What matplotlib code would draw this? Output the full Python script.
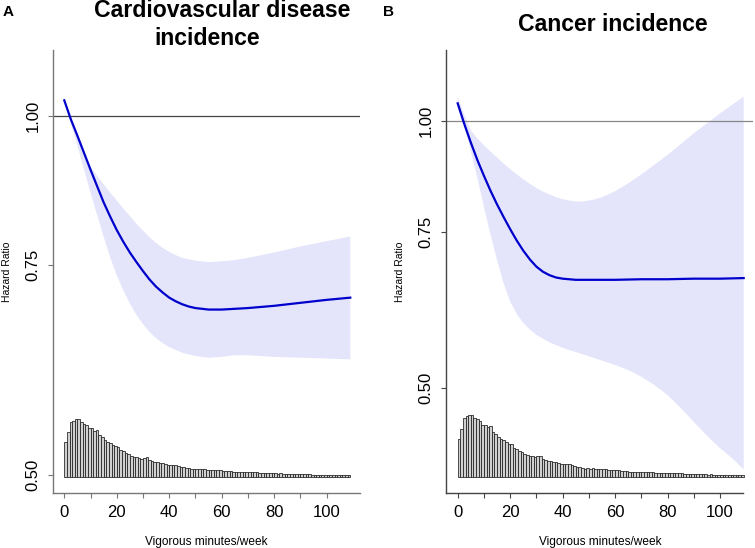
import numpy as np
import matplotlib
matplotlib.use("Agg")
import matplotlib.pyplot as plt
from matplotlib.ticker import NullLocator, FixedLocator, FixedFormatter

plt.rcParams['font.family'] = ['Liberation Sans', 'DejaVu Sans']

# ---------------- data ----------------
title_lines = [["Cardiovascular disease", "incidence"], ["Cancer incidence"]]
panel_letters = ["A", "B"]
x_label = "Vigorous minutes/week"
y_label = "Hazard Ratio"
x_ticks = [0, 10, 20, 30, 40, 50, 60, 70, 80, 90, 100]
x_tick_labels = ["0", "", "20", "", "40", "", "60", "", "80", "", "100"]
y_ticks = [0.50, 0.75, 1.00]
y_tick_labels = ["0.50", "0.75", "1.00"]

# Panel A: cardiovascular disease
cvd_x = [0, 2.5, 5, 7.5, 10, 12.5, 15, 17.5, 20, 22.5, 25, 27.5, 30, 32.5, 35, 37.5,
         40, 42.5, 45, 47.5, 50, 55, 60, 65, 70, 80, 90, 100, 109]
cvd_hr = [1.030, 0.993, 0.962, 0.931, 0.901, 0.873, 0.846, 0.823, 0.802, 0.784, 0.768,
          0.754, 0.741, 0.729, 0.719, 0.711, 0.704, 0.699, 0.695, 0.692, 0.690, 0.688,
          0.688, 0.689, 0.690, 0.693, 0.697, 0.701, 0.704]
cvd_up_x = [0, 2.5, 5, 7.5, 10, 12.5, 15, 17.5, 20, 22.5, 25, 27.5, 30, 32.5, 35, 37.5,
            40, 42.5, 45, 50, 55, 60, 65, 70, 80, 90, 100, 109]
cvd_up = [1.035, 0.995, 0.958, 0.928, 0.907, 0.890, 0.876, 0.862, 0.849, 0.836, 0.824,
          0.812, 0.801, 0.791, 0.782, 0.775, 0.769, 0.764, 0.760, 0.756, 0.754, 0.755,
          0.757, 0.760, 0.768, 0.777, 0.785, 0.792]
cvd_lo_x = [0, 2.5, 5, 7.5, 10, 12.5, 15, 17.5, 20, 22.5, 25, 27.5, 30, 32.5, 35, 37.5,
            40, 45, 50, 55, 60, 65, 70, 80, 90, 100, 109]
cvd_lo = [1.025, 0.985, 0.944, 0.902, 0.862, 0.826, 0.792, 0.761, 0.735, 0.714, 0.696,
          0.681, 0.669, 0.659, 0.651, 0.645, 0.640, 0.633, 0.629, 0.627, 0.628, 0.630,
          0.630, 0.628, 0.627, 0.626, 0.625]

# Panel B: cancer
can_x = [0, 2.5, 5, 7.5, 10, 12.5, 15, 17.5, 20, 22.5, 25, 27.5, 30, 32.5, 35, 37.5,
         40, 45, 50, 60, 70, 80, 90, 100, 109]
can_hr = [1.046, 0.992, 0.945, 0.903, 0.867, 0.834, 0.805, 0.779, 0.755, 0.733, 0.714,
          0.698, 0.685, 0.676, 0.670, 0.666, 0.664, 0.662, 0.662, 0.662, 0.663, 0.663,
          0.664, 0.664, 0.665]
can_up_x = [0, 2.5, 5, 7.5, 10, 12.5, 15, 17.5, 20, 22.5, 25, 27.5, 30, 32.5, 35, 37.5,
            40, 42.5, 45, 47.5, 50, 52.5, 55, 57.5, 60, 65, 70, 75, 80, 85, 90, 95, 100,
            105, 109]
can_up = [1.064, 1.015, 0.975, 0.955, 0.938, 0.923, 0.909, 0.895, 0.882, 0.870, 0.859,
          0.849, 0.840, 0.832, 0.826, 0.820, 0.816, 0.813, 0.811, 0.811, 0.813, 0.816,
          0.820, 0.826, 0.833, 0.850, 0.870, 0.892, 0.915, 0.941, 0.968, 0.993, 1.019,
          1.044, 1.064]
can_lo_x = [0, 2.5, 5, 7.5, 10, 12.5, 15, 17.5, 20, 22.5, 25, 27.5, 30, 35, 40, 45, 50,
            55, 60, 65, 70, 75, 80, 85, 90, 95, 100, 105, 109]
can_lo = [1.035, 0.985, 0.925, 0.862, 0.800, 0.745, 0.697, 0.656, 0.626, 0.606, 0.592,
          0.582, 0.574, 0.563, 0.555, 0.549, 0.543, 0.537, 0.531, 0.524, 0.515, 0.504,
          0.491, 0.475, 0.458, 0.442, 0.428, 0.416, 0.405]

# histogram of vigorous minutes/week (relative frequency, 1-minute bins 0..108)
hist_counts = [35, 44.3, 54.3, 56, 57.3, 57.3, 54.3, 53, 51.3, 48.3,
               48.3, 45.7, 46.7, 41.7, 39.3, 36.7, 35, 34, 31.7, 30.7,
               30, 26.7, 26, 24, 22.7, 20.7, 20, 19.3, 19, 18,
               19, 19.3, 16.7, 15.7, 15, 14.7, 14, 13.3, 12.7, 11.7,
               11.3, 11.3, 11.3, 10.7, 10, 9.3, 8.7, 8.3, 7.3, 7.7,
               7.3, 7.7, 7.3, 7.3, 7, 7, 6.7, 6.5, 6.3, 6.3,
               6, 5.8, 5.7, 5.3, 5, 4.8, 4.7, 4.5, 4.3, 4.3,
               4.5, 4.7, 4.7, 4.3, 4, 3.7, 3.7, 3.5, 3.5, 3.3,
               3.3, 3.2, 3.3, 3.2, 3, 3, 2.8, 2.7, 2.8, 2.5,
               2.5, 2.3, 2.5, 2.3, 2.2, 2, 2.2, 2, 2, 1.8,
               2, 1.8, 1.8, 2, 2, 1.7, 1.8, 1.5, 1.3]
hist_edges = list(range(0, len(hist_counts)))

panels = [
    dict(x=cvd_x, hr=cvd_hr, ux=cvd_up_x, up=cvd_up, lx=cvd_lo_x, lo=cvd_lo,
         ylim=(0.483, 1.135), hist_scale=1.0, spine='#777777', ref='#444444',
         left=53, xbound=None,
         title_pos=[(221.7, 16.7), (206.7, 45.0)]),
    dict(x=can_x, hr=can_hr, ux=can_up_x, up=can_up, lx=can_lo_x, lo=can_lo,
         ylim=(0.381, 1.201), hist_scale=1.08, spine='#444444', ref='#888888',
         left=446.4, xbound=108.6,
         title_pos=[(613.0, 30.7)]),
]

# ---------------- figure ----------------
W, H = 755, 548
fig = plt.figure(figsize=(W / 100, H / 100), dpi=100)
ax_w, ax_top, ax_bot = 307, 50, 493
xlim = (-4.3, 112.7)

for i, p in enumerate(panels):
    ax = fig.add_axes([p['left'] / W, (H - ax_bot) / H, ax_w / W, (ax_bot - ax_top) / H])
    ax.set_yscale('log')
    ax.set_xlim(*xlim)
    ax.set_ylim(*p['ylim'])

    # confidence band
    px = list(p['ux']) + list(p['lx'])[::-1]
    py = list(p['up']) + list(p['lo'])[::-1]
    ax.fill(px, py, color='#e4e4fb', lw=0, zorder=1)
    ax.axhline(1.0, color=p['ref'], lw=0.9, zorder=2)
    ax.plot(p['x'], p['hr'], color='#0000cc', lw=1.6, zorder=3,
            solid_joinstyle='round')

    # spines
    for s in ['top', 'right']:
        ax.spines[s].set_visible(False)
    for s in ['left', 'bottom']:
        ax.spines[s].set_color(p['spine'])
        ax.spines[s].set_linewidth(1.0)
    if p['xbound'] is not None:
        ax.spines['bottom'].set_bounds(xlim[0], p['xbound'])

    ax.xaxis.set_major_locator(FixedLocator(x_ticks))
    ax.xaxis.set_major_formatter(FixedFormatter(x_tick_labels))
    ax.yaxis.set_major_locator(FixedLocator(y_ticks))
    ax.yaxis.set_major_formatter(FixedFormatter(y_tick_labels))
    ax.yaxis.set_minor_locator(NullLocator())
    ax.tick_params(axis='both', length=3.6, width=0.8, color=p['spine'],
                   labelsize=12, labelcolor='black')
    ax.tick_params(axis='x', pad=5.0)
    ax.tick_params(axis='y', pad=5.5, labelrotation=90)
    for lab in ax.get_yticklabels():
        lab.set_va('center')

    ax.set_xlabel(x_label, fontsize=8.6, va='center')
    ax.xaxis.set_label_coords(0.5, -0.110)
    ax.set_ylabel(y_label, fontsize=7.5, va='center')
    ax.yaxis.set_label_coords(-0.150, 0.5)

    # histogram in its own linear scale
    hax = ax.inset_axes([0, 0, 1, 1])
    hax.set_xlim(*xlim)
    f0 = (ax_bot - 476.7) / (ax_bot - ax_top)
    Hh = (ax_bot - ax_top) / p['hist_scale']
    hax.set_ylim(-f0 * Hh, (1 - f0) * Hh)
    hax.bar(hist_edges, hist_counts, width=1.0, align='edge',
            color='#d0d0d0', edgecolor='#1e1e1e', linewidth=0.55)
    hax.axis('off')
    hax.patch.set_visible(False)

    # titles
    for line, (tx, ty) in zip(title_lines[i], p['title_pos']):
        fig.text(tx / W, 1 - ty / H, line, ha='center', va='baseline',
                 fontsize=16.6, fontweight='bold')

fig.text(3 / W, 1 - 16.5 / H, panel_letters[0], ha='left', va='baseline',
         fontsize=11, fontweight='bold')
fig.text(383 / W, 1 - 16.5 / H, panel_letters[1], ha='left', va='baseline',
         fontsize=11, fontweight='bold')

fig.savefig("out.png", dpi=100)
